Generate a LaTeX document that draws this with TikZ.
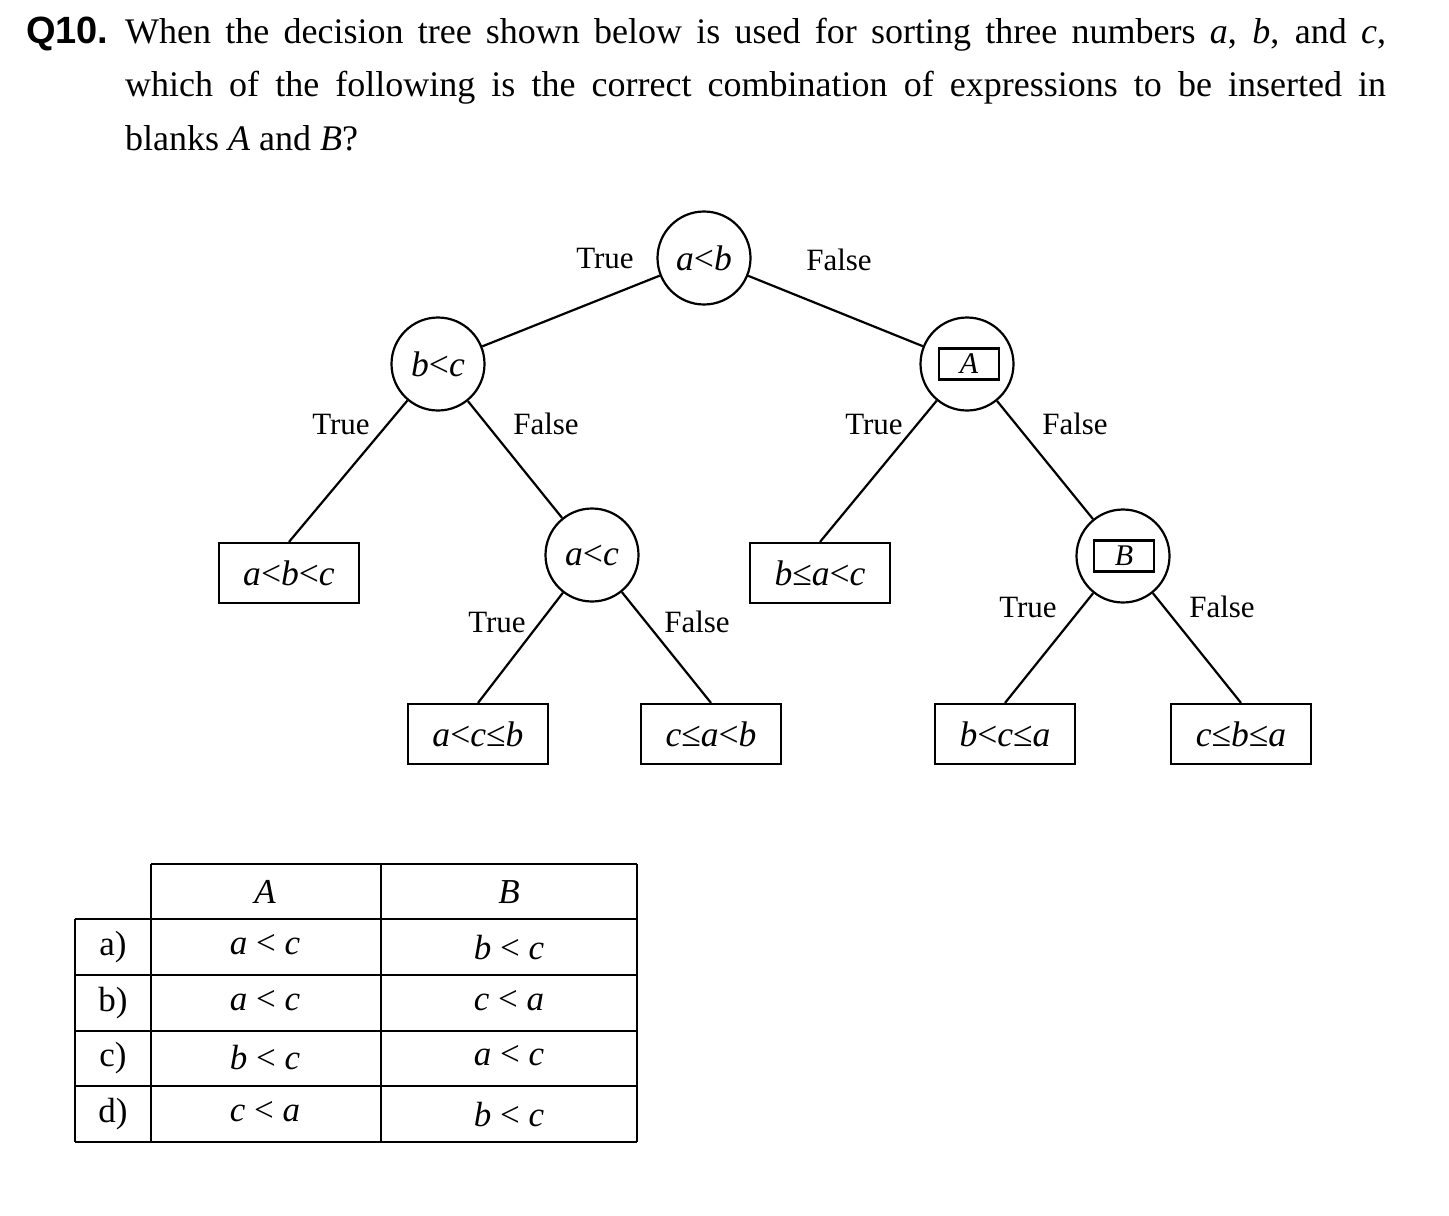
\documentclass[tikz,border=0pt]{standalone}
\usepackage{fontspec}
\setmainfont{Liberation Serif}
\newfontfamily\qfont{Liberation Sans}
\usetikzlibrary{positioning}

\tikzset{
  test/.style={draw, circle, line width=1.1pt, minimum size=46.5pt, inner sep=0pt,
    font=\fontsize{17.8}{20}\selectfont},
  leaf/.style={draw, rectangle, line width=1.1pt, minimum width=70pt, minimum height=30pt,
    inner sep=0pt, font=\fontsize{17.8}{20}\selectfont},
  blank/.style={draw, rectangle, line width=1.1pt, minimum width=30pt, minimum height=15.5pt,
    inner sep=0pt, font=\fontsize{15}{18}\selectfont},
  branch/.style={inner sep=0pt, font=\fontsize{15.5}{18}\selectfont},
  cell/.style={inner sep=0pt, font=\fontsize{17.5}{20}\selectfont}
}

\begin{document}
\begin{tikzpicture}[x=0.5pt, y=-0.5pt, line width=1.1pt]
\useasboundingbox (0,0) rectangle (1449,1215);

% Question
\node[anchor=base west, inner sep=0pt,
    font=\qfont\bfseries\fontsize{19}{22}\selectfont
] (qnum) at (25,43) {Q10.};
\node[anchor=base west, inner sep=0pt,
    text width=630.5pt, align=justify,
    font=\fontsize{18}{26.75}\selectfont
] (qtext) at (124,43) {When the decision tree shown below is used for sorting three numbers \textit{a}, \textit{b}, and \textit{c},\linebreak
which of the following is the correct combination of expressions to be inserted in\linebreak
blanks \textit{A} and \textit{B}?};

% Decision nodes
\node[test] (root) at (704,258) {\textit{a}<\textit{b}};
\node[test] (bc) at (438,364) {\textit{b}<\textit{c}};
\node[test] (qa) at (967,364) {};
\node[blank] (blankA) at (969,364) {\textit{A}};
\node[test] (ac) at (592,555) {\textit{a}<\textit{c}};
\node[test] (qb) at (1123,556) {};
\node[blank] (blankB) at (1124,556) {\textit{B}};

% Leaves
\node[leaf] (leaf1) at (289,573) {\textit{a}<\textit{b}<\textit{c}};
\node[leaf] (leaf4) at (820,573) {\textit{b}≤\textit{a}<\textit{c}};
\node[leaf] (leaf2) at (478,734) {\textit{a}<\textit{c}≤\textit{b}};
\node[leaf] (leaf3) at (711,734) {\textit{c}≤\textit{a}<\textit{b}};
\node[leaf] (leaf5) at (1005,734) {\textit{b}<\textit{c}≤\textit{a}};
\node[leaf] (leaf6) at (1241,734) {\textit{c}≤\textit{b}≤\textit{a}};

% Branch labels
\node[branch] (t1) at (605,258) {True};
\node[branch] (f1) at (839,260) {False};
\node[branch] (t2) at (341,424) {True};
\node[branch] (f2) at (546,424) {False};
\node[branch] (t3) at (874,424) {True};
\node[branch] (f3) at (1075,424) {False};
\node[branch] (t4) at (497,622) {True};
\node[branch] (f4) at (697,622) {False};
\node[branch] (t5) at (1028,607) {True};
\node[branch] (f5) at (1222,607) {False};

% Edges
\draw (root) -- (bc);
\draw (root) -- (qa);
\draw (bc) -- (leaf1.north);
\draw (bc) -- (ac);
\draw (ac) -- (leaf2.north);
\draw (ac) -- (leaf3.north);
\draw (qa) -- (leaf4.north);
\draw (qa) -- (qb);
\draw (qb) -- (leaf5.north);
\draw (qb) -- (leaf6.north);

% Table
\draw[line width=0.75pt] (151,864) -- (637,864);
\draw[line width=0.75pt] (75,919) -- (637,919);
\draw[line width=0.75pt] (75,975) -- (637,975);
\draw[line width=0.75pt] (75,1031) -- (637,1031);
\draw[line width=0.75pt] (75,1086) -- (637,1086);
\draw[line width=0.75pt] (75,1142) -- (637,1142);
\draw[line width=0.75pt] (75,919) -- (75,1142);
\draw[line width=0.75pt] (151,864) -- (151,1142);
\draw[line width=0.75pt] (381,864) -- (381,1142);
\draw[line width=0.75pt] (637,864) -- (637,1142);

\node[cell] (hA) at (265,892) {\textit{A}};
\node[cell] (hB) at (509,892) {\textit{B}};
\node[cell] (ra) at (113,947) {a)};
\node[cell] (rb) at (113,1003) {b)};
\node[cell] (rc) at (113,1058) {c)};
\node[cell] (rd) at (113,1114) {d)};
\node[cell] (aA) at (265,945) {\textit{a} < \textit{c}};
\node[cell] (aB) at (509,948) {\textit{b} < \textit{c}};
\node[cell] (bA) at (265,1001) {\textit{a} < \textit{c}};
\node[cell] (bB) at (509,1001) {\textit{c} < \textit{a}};
\node[cell] (cA) at (265,1058) {\textit{b} < \textit{c}};
\node[cell] (cB) at (509,1056) {\textit{a} < \textit{c}};
\node[cell] (dA) at (265,1112) {\textit{c} < \textit{a}};
\node[cell] (dB) at (509,1115) {\textit{b} < \textit{c}};
\end{tikzpicture}
\end{document}
